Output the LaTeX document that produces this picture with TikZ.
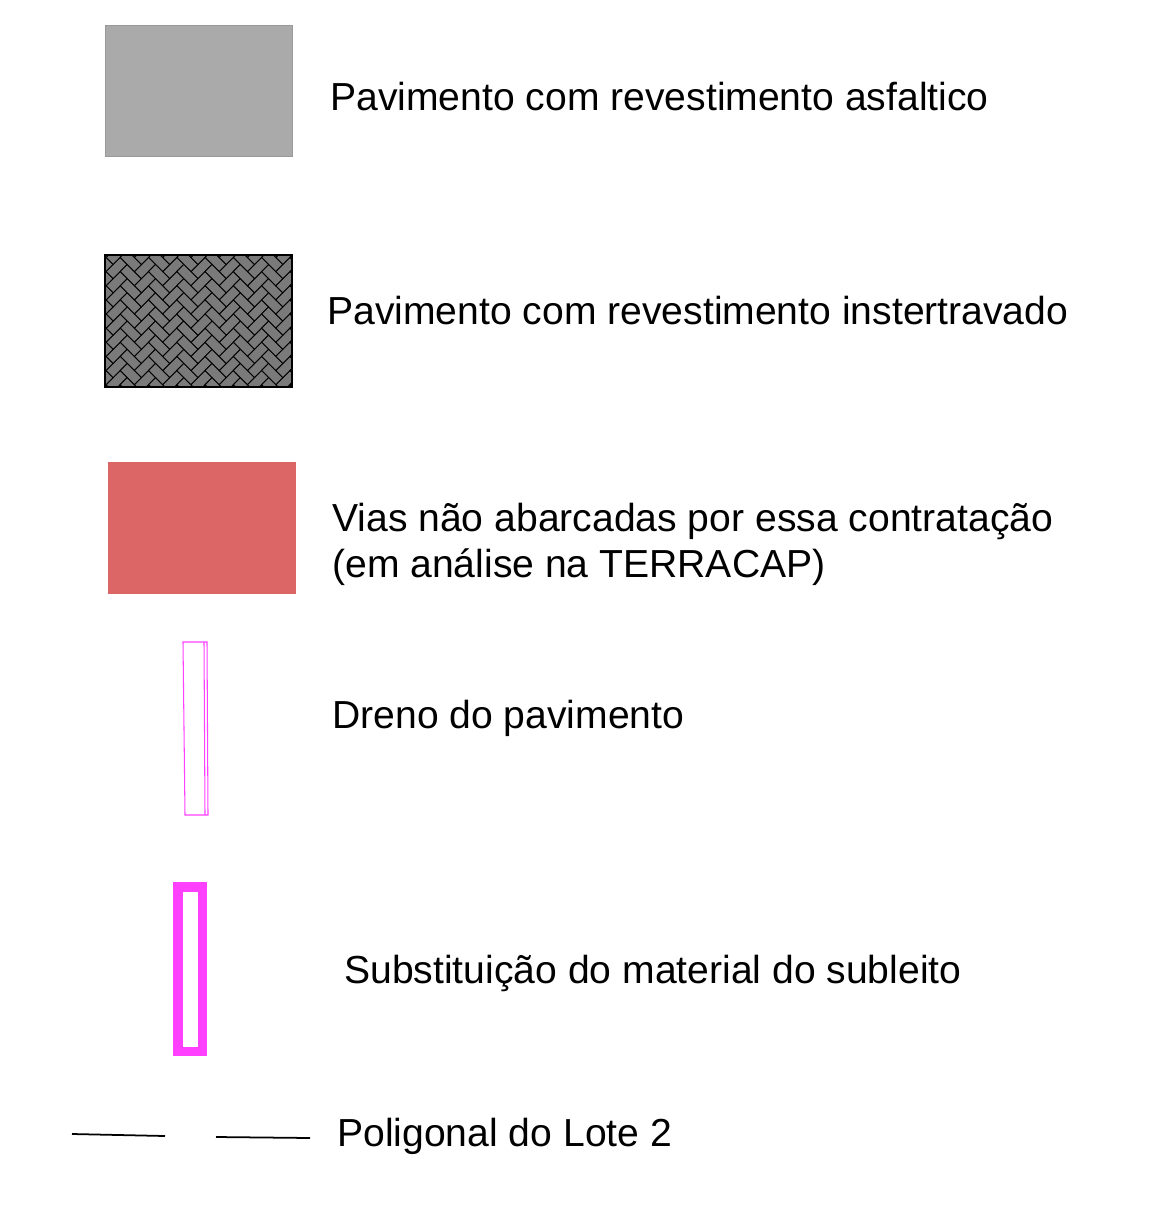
\documentclass[tikz,border=0pt]{standalone}
\usepackage{fontspec}
\setmainfont{Liberation Sans}
\usepackage{tikz}

\definecolor{asfalto}{HTML}{AAAAAA}
\definecolor{intertravado}{HTML}{7A7A7A}
\definecolor{vias}{HTML}{DC6565}
\definecolor{dreno}{HTML}{FF40FF}

\tikzset{
  legtext/.style={anchor=base west,inner sep=0pt,font=\fontsize{22.25pt}{27pt}\selectfont,align=left},
  brick/.style={fill=intertravado,draw=black,line width=0.5pt}
}

\begin{document}
\begin{tikzpicture}[x=0.02cm,y=-0.02cm]
   \useasboundingbox (0,0) rectangle (1170,1209);
   % asfalto
   \draw[fill=asfalto,draw=gray!80] (105,25) rectangle (292,156);
   \node[legtext] (tasf) at (330,111) {Pavimento com revestimento asfaltico};
   % intertravado (espinha de peixe)
   \begin{scope}
      \clip (105,255) rectangle (292,387);
      \begin{scope}[shift={(198,321)},rotate=45,x=0.2cm,y=0.2cm]
         \foreach \n in {-6,...,6} {
            \foreach \k in {-14,...,14} {
               \draw[brick] ({\k+2*\n},{\k-2*\n}) rectangle ++(2,1);
               \draw[brick] ({\k+2*\n},{\k+1-2*\n}) rectangle ++(1,2);
            }
         }
      \end{scope}
   \end{scope}
   \draw[black,line width=1pt] (105,255) rectangle (292,387);
   \node[legtext] (tint) at (327,324) {Pavimento com revestimento instertravado};
   % vias
   \draw[fill=vias,draw=vias] (108,462) rectangle (295,593);
   \node[legtext] (tvias) at (332,577) {Vias não abarcadas por essa contratação\\[-1pt](em análise na TERRACAP)};
   % dreno
   \draw[dreno,line width=0.6pt] (183,642) -- (207,642) -- (208,815) -- (185,815) -- cycle;
   \draw[dreno,line width=0.6pt] (204,642) -- (205,815);
   \node[legtext] (tdre) at (332,728) {Dreno do pavimento};
   % subleito
   \draw[dreno,line width=5.4pt] (178,887) rectangle (202.5,1051.5);
   \node[legtext] (tsub) at (344,983) {Substituição do material do subleito};
   % poligonal
   \coordinate (p1) at (72,1134);
   \coordinate (p2) at (165,1136);
   \coordinate (p3) at (216,1137);
   \coordinate (p4) at (310,1138);
   \draw[black,line width=1pt] (p1) -- (p2);
   \draw[black,line width=1pt] (p3) -- (p4);
   \node[legtext] (tpol) at (337,1146) {Poligonal do Lote 2};
\end{tikzpicture}
\end{document}
